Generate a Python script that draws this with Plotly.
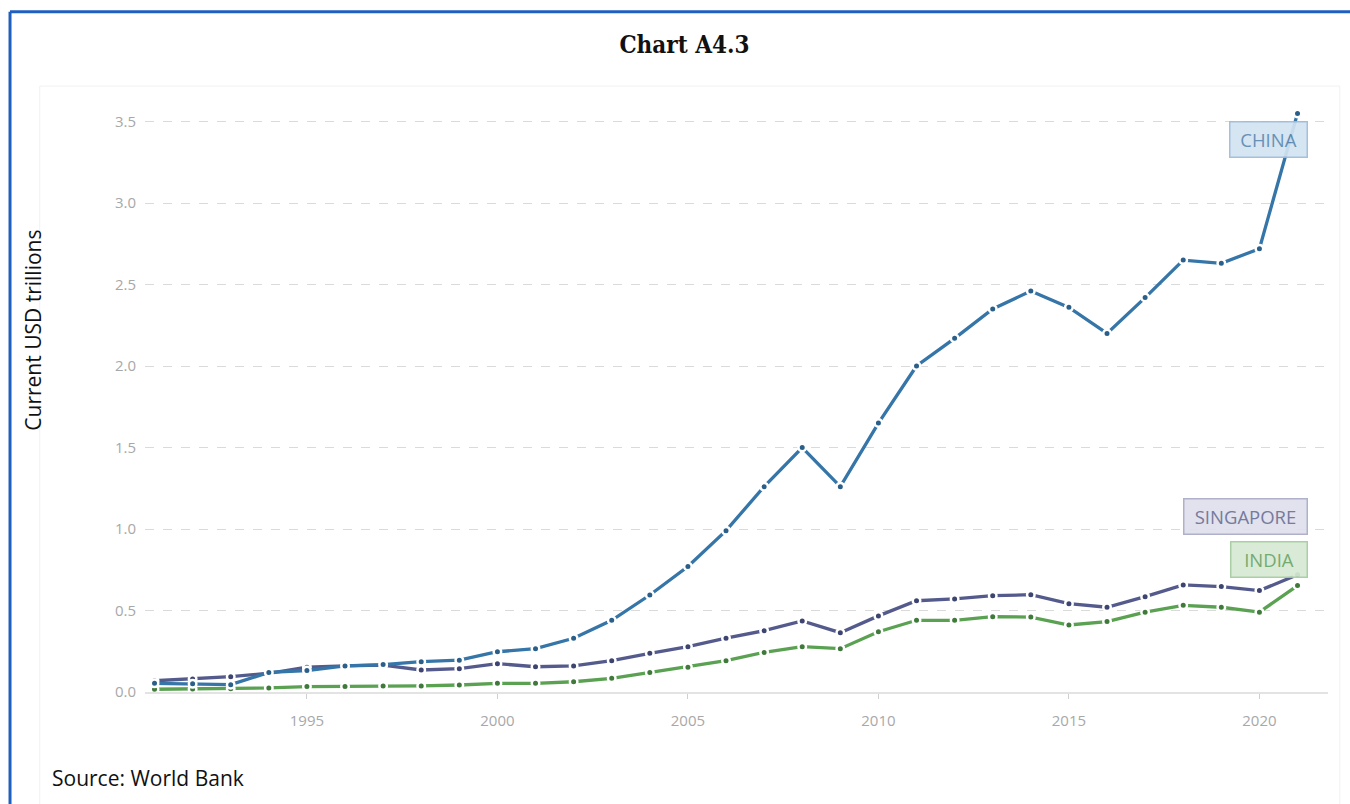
import plotly.graph_objects as go

years = list(range(1991, 2022))
china = [0.053, 0.050, 0.045, 0.120, 0.132, 0.160, 0.168, 0.186, 0.195, 0.247,
         0.266, 0.330, 0.440, 0.595, 0.770, 0.990, 1.260, 1.500, 1.260, 1.650,
         2.000, 2.170, 2.350, 2.460, 2.360, 2.200, 2.420, 2.650, 2.630, 2.720, 3.550]
singapore = [0.069, 0.080, 0.094, 0.115, 0.152, 0.160, 0.165, 0.135, 0.143, 0.174,
             0.155, 0.160, 0.192, 0.237, 0.278, 0.330, 0.376, 0.436, 0.364, 0.467,
             0.560, 0.571, 0.591, 0.597, 0.542, 0.520, 0.585, 0.657, 0.647, 0.622, 0.720]
india = [0.017, 0.018, 0.020, 0.025, 0.033, 0.033, 0.037, 0.037, 0.043, 0.053,
         0.053, 0.063, 0.084, 0.119, 0.152, 0.192, 0.243, 0.278, 0.266, 0.370,
         0.440, 0.440, 0.462, 0.460, 0.411, 0.432, 0.490, 0.532, 0.520, 0.490, 0.653]

series = [
    ("INDIA", india, "#5aa152", "#3f7a3a", "#d6ead3", "#a3cc9f", "#6aa366", 25.6, 63),
    ("SINGAPORE", singapore, "#545b8c", "#3d4470", "#dfe0ec", "#a9abc6", "#6b6f95", 57.7, 110),
    ("CHINA", china, "#3575a8", "#2a5f8a", "#d2e3f1", "#9dbcd8", "#5b88b0", -26, 64),
]

x_ticks = [1995, 2000, 2005, 2010, 2015, 2020]
y_ticks = [0, 0.5, 1.0, 1.5, 2.0, 2.5, 3.0, 3.5]

fig = go.Figure()
annotations = []
for name, vals, lc, mc, bg, bc, tc, ysh, w in series:
    fig.add_trace(go.Scatter(
        x=years, y=vals, mode="lines+markers", name=name,
        line=dict(color=lc, width=3.3),
        marker=dict(color=mc, size=7.5, line=dict(color="white", width=2.5)),
        showlegend=False, cliponaxis=False,
    ))
    annotations.append(dict(
        x=years[-1], y=vals[-1], xref="x", yref="y", text=name, showarrow=False,
        xanchor="right", yanchor="middle", xshift=10, yshift=ysh,
        bgcolor=bg, bordercolor=bc, borderwidth=1.5, borderpad=6,
        width=w, height=22, opacity=0.92,
        font=dict(family="Open Sans", size=18.5, color=tc),
    ))

# y-axis title
annotations.append(dict(
    x=-0.0947, y=0.614, xref="paper", yref="paper", text="Current USD trillions",
    showarrow=False, textangle=-90, xanchor="center", yanchor="middle",
    font=dict(family="Open Sans", size=21, color="#111111"),
))
# source
annotations.append(dict(
    x=-0.0803, y=-0.146, xref="paper", yref="paper", text="Source: World Bank",
    showarrow=False, xanchor="left", yanchor="middle",
    font=dict(family="Open Sans", size=21, color="#111111"),
))

shapes = [
    # faint inner frame
    dict(type="rect", xref="paper", yref="paper", x0=-0.089, x1=1.01, y0=-0.21, y1=1.027,
         line=dict(color="#f1f1f1", width=1), layer="below"),
    # blue border top and left
    dict(type="line", xref="paper", yref="paper", x0=-0.1141, x1=1.03, y0=1.1531, y1=1.1531,
         line=dict(color="#1f5fbf", width=3)),
    dict(type="line", xref="paper", yref="paper", x0=-0.1141, x1=-0.1141, y0=1.1531, y1=-0.25,
         line=dict(color="#1f5fbf", width=3)),
]

fig.update_layout(
    width=1350, height=804,
    margin=dict(l=145, r=22, t=102, b=112),
    paper_bgcolor="white", plot_bgcolor="white",
    title=dict(text="<b>Chart A4.3</b>", x=0.507, xanchor="center", y=1 - 45 / 804,
               yanchor="middle", font=dict(family="DejaVu Serif Condensed", size=24, color="#111111")),
    annotations=annotations, shapes=shapes,
    xaxis=dict(range=[1990.75, 2021.8], tickvals=x_ticks, ticktext=[str(t) for t in x_ticks],
               showgrid=False, zeroline=False, showline=True, linecolor="#e3e3e3", linewidth=2,
               ticks="outside", ticklen=5, tickcolor="#d0d0d0", tickwidth=1,
               ticklabelstandoff=9,
               tickfont=dict(family="Open Sans", size=15, color="#a8a8a8")),
    yaxis=dict(range=[0, 3.62], tickvals=y_ticks, ticktext=[f"{t:.1f}" for t in y_ticks],
               showgrid=True, gridcolor="#dadada", griddash="dash", gridwidth=1,
               zeroline=False, showline=False, ticks="", ticklabelstandoff=8,
               tickfont=dict(family="Open Sans", size=15, color="#a8a8a8")),
)

fig.write_html("out.html")
